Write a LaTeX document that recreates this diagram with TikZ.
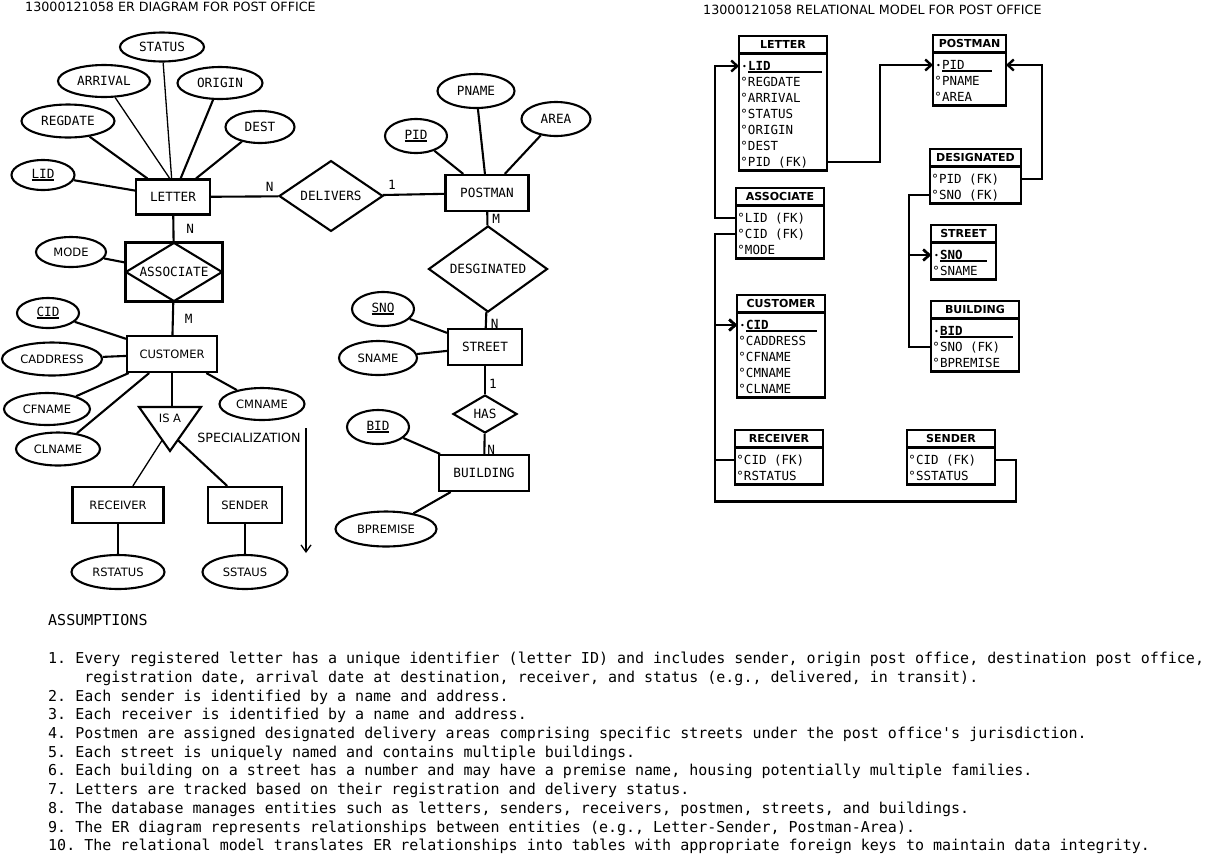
\documentclass[tikz,border=0pt]{standalone}
\usepackage{fontspec}
\setmainfont{DejaVu Sans}
\setsansfont{DejaVu Sans}
\setmonofont{DejaVu Sans Mono}
\usepackage{tikz}
\usetikzlibrary{positioning, arrows.meta, shapes.geometric, calc}

\newcommand{\erfont}{\fontsize{12.7}{15}\selectfont\ttfamily}
\newcommand{\ersans}{\fontsize{11.5}{14}\selectfont\sffamily}
\newcommand{\ttlfont}{\fontsize{12.7}{15}\selectfont\sffamily}
\newcommand{\hdfont}{\fontsize{11}{13}\selectfont\sffamily\bfseries}
\newcommand{\rowfont}{\fontsize{12.5}{16}\selectfont\ttfamily}
\newcommand{\lstfont}{\fontsize{15}{18.7}\selectfont\ttfamily\frenchspacing}
\newcommand{\keyul}[1]{\sbox0{#1}\rlap{\rule[-2.5pt]{\wd0}{1.5pt}}\usebox0}
\newcommand{\pkrow}[2]{\makebox[6pt][l]{\raisebox{1.3pt}{\fontsize{8}{8}\selectfont•}}\rlap{\rule[-2pt]{#2}{1.2pt}}#1}
\newcommand{\colrow}[1]{\makebox[6pt][l]{\hspace{-1.7pt}°}#1}
\newcommand{\fk}{\phantom{X}(FK)}
\newcommand{\firstrow}{\rule{0pt}{14.5pt}}
\newcommand{\lastrow}{\rule[-1.6pt]{0pt}{1.6pt}}

\tikzset{
  ent/.style     ={draw, rectangle, line width=2.1pt, inner sep=0pt, minimum height=36, font=\erfont},
  rel/.style     ={draw, diamond, line width=2.1pt, inner sep=0pt, font=\erfont},
  attr/.style    ={draw, ellipse, line width=2.1pt, inner sep=0pt, minimum height=32, font=\erfont},
  sanslbl/.style ={font=\ersans},
  conn/.style    ={line width=2.1pt},
  thinconn/.style={line width=1.3pt},
  card/.style    ={font=\erfont, inner sep=1pt},
  thd/.style     ={draw, line width=2.4pt, outer sep=0pt, inner sep=0pt, minimum height=17.5,
                   anchor=north west, font=\hdfont},
  tbody/.style   ={draw, line width=2.4pt, outer sep=0pt, inner xsep=3pt, inner ysep=2.5pt,
                   align=left, font=\rowfont},
  fk/.style      ={-{Straight Barb[length=6pt, width=11pt]}, line width=2.4pt},
  spec/.style    ={-{Straight Barb[length=7pt, width=10pt]}, line width=1.3pt},
  ttl/.style     ={anchor=west, inner sep=0pt, font=\ttlfont},
}

\begin{document}
\begin{tikzpicture}[x=1pt, y=-1pt]
  \useasboundingbox (0,0) rectangle (1217,855);

  % titles
  \node[ttl] (ERT) at (25,7)  {13000121058 ER DIAGRAM FOR POST OFFICE};
  \node[ttl] (RMT) at (703,10) {13000121058 RELATIONAL MODEL FOR POST OFFICE};

  % ER diagram: letter
  \node[ent, minimum width=74, minimum height=35] (LET) at (173,197) {LETTER};
  \node[attr, minimum width=84, minimum height=29] (STA) at (162,47)  {STATUS};
  \node[attr, minimum width=92] (ARR) at (104,81)  {ARRIVAL};
  \node[attr, minimum width=85] (ORG) at (220,83)  {ORIGIN};
  \node[attr, minimum width=93, minimum height=33] (REG) at (68,121) {REGDATE};
  \node[attr, minimum width=69] (DST) at (260,127) {DEST};
  \node[attr, minimum width=63, minimum height=30] (LID) at (43,175) {\keyul{LID}};
  \draw[thinconn] (STA) -- (LET);
  \draw[thinconn] (ARR) -- (LET.100);
  \draw[conn]     (ORG) -- (LET);
  \draw[conn]     (REG) -- (LET);
  \draw[conn]     (DST) -- (LET);
  \draw[conn]     (LID) -- (LET);

  % delivers / postman
  \node[rel, minimum width=104, minimum height=62] (DLV) at (331,196) {DELIVERS};
  \node[ent, minimum width=83] (PMN) at (487,193) {POSTMAN};
  \node[attr, minimum width=62, minimum height=34] (PID) at (416,136) {\keyul{PID}};
  \node[attr, minimum width=77, minimum height=34] (PNM) at (476,91)  {PNAME};
  \node[attr, minimum width=69, minimum height=34] (ARE) at (556,119) {AREA};
  \draw[conn] (LET) -- node[card, above=3pt, pos=0.87] {N} (DLV);
  \draw[conn] (DLV) -- node[card, above=3pt, pos=0.15] {1} (PMN);
  \draw[conn] (PID) -- (PMN);
  \draw[conn] (PNM) -- (PMN);
  \draw[conn] (ARE) -- (PMN);

  % designated / street / has / building
  \node[rel, minimum width=119, minimum height=69] (DSG) at (488,269) {DESGINATED};
  \node[ent, minimum width=74] (STR) at (485,347) {STREET};
  \node[attr, minimum width=62, minimum height=34] (SNO) at (383,309) {\keyul{SNO}};
  \node[attr, sanslbl, minimum width=78, minimum height=34] (SNM) at (378,358) {SNAME};
  \node[rel, minimum width=64, minimum height=38] (HAS) at (485,414) {HAS};
  \node[ent, minimum width=90] (BLD) at (484,473) {BUILDING};
  \node[attr, minimum width=62, minimum height=34] (BID) at (378,427) {\keyul{BID}};
  \node[attr, sanslbl, minimum width=101, minimum height=35] (BPR) at (386,529) {BPREMISE};
  \draw[conn] (PMN) -- node[card, right=3pt, pos=0.55] {M} (DSG);
  \draw[conn] (DSG) -- node[card, right=3pt, pos=0.72] {N} (STR);
  \draw[conn] (STR) -- node[card, right=2pt, pos=0.63] {1} (HAS);
  \draw[conn] (HAS) -- node[card, right=1pt, pos=0.82] {N} (BLD);
  \draw[conn] (SNO) -- (STR);
  \draw[conn] (SNM) -- (STR);
  \draw[conn] (BID) -- (BLD);
  \draw[conn] (BPR) -- (BLD);

  % associate / customer
  \node[ent, minimum width=97, minimum height=59] (ASC) at (174,272) {ASSOCIATE};
  \node[rel, minimum width=97, minimum height=59] (ASCd) at (ASC) {};
  \node[attr, sanslbl, minimum width=70, minimum height=30] (MOD) at (71,252) {MODE};
  \node[ent, sanslbl, minimum width=90] (CUS) at (172,354) {CUSTOMER};
  \node[attr, minimum width=62, minimum height=30] (CID) at (48,313) {\keyul{CID}};
  \node[attr, sanslbl, minimum width=100, minimum height=33] (CAD) at (52,359) {CADDRESS};
  \node[attr, sanslbl, minimum width=86] (CFN) at (47,409) {CFNAME};
  \node[attr, sanslbl, minimum width=84, minimum height=33] (CLN) at (58,449) {CLNAME};
  \node[attr, sanslbl, minimum width=85] (CMN) at (262,404) {CMNAME};
  \draw[conn] (LET) -- node[card, right=11pt] {N} (ASC);
  \draw[conn] (ASC) -- node[card, right=10pt] {M} (CUS);
  \draw[conn] (MOD) -- (ASC);
  \draw[conn] (CID) -- (CUS);
  \draw[conn] (CAD) -- (CUS);
  \draw[conn] (CFN) -- (CUS);
  \draw[conn] (CLN) -- (CUS);
  \draw[conn] (CMN) -- (CUS);

  % specialization
  \coordinate (ISAl) at (139,407);
  \coordinate (ISAr) at (201,407);
  \coordinate (ISAb) at (170,451);
  \draw[conn, line join=miter] (ISAl) -- (ISAr) -- (ISAb) -- cycle;
  \node[sanslbl] (ISA) at (170,418) {IS A};
  \node[ent, sanslbl, minimum width=91] (RCV) at (118,505) {RECEIVER};
  \node[ent, sanslbl, minimum width=74] (SND) at (245,505) {SENDER};
  \node[attr, sanslbl, minimum width=93, minimum height=34] (RST) at (118,572) {RSTATUS};
  \node[attr, sanslbl, minimum width=85, minimum height=34] (SST) at (245,572) {SSTAUS};
  \draw[conn]     (CUS.south) -- (CUS.south |- ISAl);
  \draw[thinconn] ($(ISAl)!0.75!(ISAb)$) -- (RCV.52);
  \draw[conn]     ($(ISAr)!0.75!(ISAb)$) -- (SND.133);
  \draw[conn] (RCV) -- (RST);
  \draw[conn] (SND) -- (SST);
  \node[font=\ttlfont, inner sep=0pt] (SPC) at (249,438) {SPECIALIZATION};
  \coordinate (SPa) at (306,428);
  \coordinate (SPb) at (306,553);
  \draw[spec] (SPa) -- (SPb);

  % relational model
  \node[thd, minimum width=88] (RLET) at (739,36) {LETTER};
  \node[tbody, text width=82, below=0pt of RLET] (RLETb)
    {\firstrow\pkrow{\textbf{LID}}{74pt}\\ \colrow{REGDATE}\\ \colrow{ARRIVAL}\\ \colrow{STATUS}\\
     \colrow{ORIGIN}\\ \colrow{DEST}\\ \colrow{PID\fk}\lastrow};
  \node[thd, minimum width=73] (RPMN) at (933,35) {POSTMAN};
  \node[tbody, text width=67, below=0pt of RPMN] (RPMNb)
    {\firstrow\pkrow{PID}{50pt}\\ \colrow{PNAME}\\ \colrow{AREA}\lastrow};
  \node[thd, minimum width=91] (RDSG) at (930,149) {DESIGNATED};
  \node[tbody, text width=85, below=0pt of RDSG] (RDSGb)
    {\firstrow\colrow{PID\fk}\\ \colrow{SNO\fk}\lastrow};
  \node[thd, minimum width=88] (RASC) at (736,188) {ASSOCIATE};
  \node[tbody, text width=82, below=0pt of RASC] (RASCb)
    {\firstrow\colrow{LID\fk}\\ \colrow{CID\fk}\\ \colrow{MODE}\lastrow};
  \node[thd, minimum width=65] (RSTR) at (931,225) {STREET};
  \node[tbody, text width=59, below=0pt of RSTR] (RSTRb)
    {\firstrow\pkrow{\textbf{SNO}}{47pt}\\ \colrow{SNAME}\lastrow};
  \node[thd, minimum width=88] (RCUS) at (737,295) {CUSTOMER};
  \node[tbody, text width=82, below=0pt of RCUS] (RCUSb)
    {\firstrow\pkrow{\textbf{CID}}{71pt}\\ \colrow{CADDRESS}\\ \colrow{CFNAME}\\ \colrow{CMNAME}\\
     \colrow{CLNAME}\lastrow};
  \node[thd, minimum width=88] (RBLD) at (931,301) {BUILDING};
  \node[tbody, text width=82, below=0pt of RBLD] (RBLDb)
    {\firstrow\pkrow{\textbf{BID}}{73pt}\\ \colrow{SNO\fk}\\ \colrow{BPREMISE}\lastrow};
  \node[thd, minimum width=88] (RRCV) at (735,430) {RECEIVER};
  \node[tbody, text width=82, below=0pt of RRCV] (RRCVb)
    {\firstrow\colrow{CID\fk}\\ \colrow{RSTATUS}\lastrow};
  \node[thd, minimum width=88] (RSND) at (907,430) {SENDER};
  \node[tbody, text width=82, below=0pt of RSND] (RSNDb)
    {\firstrow\colrow{CID\fk}\\ \colrow{SSTATUS}\lastrow};

  % foreign keys
  \draw[fk] ($(RLETb.north east)+(0,108.5)$) -- ++(53,0) |- ($(RPMNb.north west)+(0,12.5)$);
  \draw[fk] ($(RASCb.north west)+(0,12.5)$) -- ++(-21,0) |- ($(RLETb.north west)+(0,12.5)$);
  \draw[fk] ($(RASCb.north west)+(0,28.5)$) -- ++(-21,0) |- ($(RCUSb.north west)+(0,12.5)$);
  \draw[fk] ($(RRCVb.north west)+(0,12.5)$) -- ++(-20,0) |- ($(RCUSb.north west)+(0,12.5)$);
  \draw[fk] ($(RSNDb.north east)+(0,12.5)$) -- ++(21,0) |- ($(RRCVb.south west)+(-20,17)$)
            |- ($(RCUSb.north west)+(0,12.5)$);
  \draw[fk] ($(RDSGb.north east)+(0,12.5)$) -- ++(21,0) |- ($(RPMNb.north east)+(0,12.5)$);
  \draw[fk] ($(RDSGb.north west)+(0,28.5)$) -- ++(-21,0) |- ($(RSTRb.north west)+(0,12.5)$);
  \draw[fk] ($(RBLDb.north west)+(0,28.5)$) -- ++(-22,0) |- ($(RSTRb.north west)+(0,12.5)$);

  % assumptions
  \node[anchor=west, inner sep=0pt, font=\lstfont] (ASM) at (48,620) {ASSUMPTIONS};
  \node[anchor=north west, inner sep=0pt, align=left, font=\lstfont] (LST) at (48,651.5)
    {\rule{0pt}{12pt}1. Every registered letter has a unique identifier (letter ID) and includes sender, origin post office, destination post office,\\
     \phantom{XXXX}registration date, arrival date at destination, receiver, and status (e.g., delivered, in transit).\\
     2. Each sender is identified by a name and address.\\
     3. Each receiver is identified by a name and address.\\
     4. Postmen are assigned designated delivery areas comprising specific streets under the post office's jurisdiction.\\
     5. Each street is uniquely named and contains multiple buildings.\\
     6. Each building on a street has a number and may have a premise name, housing potentially multiple families.\\
     7. Letters are tracked based on their registration and delivery status.\\
     8. The database manages entities such as letters, senders, receivers, postmen, streets, and buildings.\\
     9. The ER diagram represents relationships between entities (e.g., Letter-Sender, Postman-Area).\\
     10. The relational model translates ER relationships into tables with appropriate foreign keys to maintain data integrity.};
\end{tikzpicture}
\end{document}
